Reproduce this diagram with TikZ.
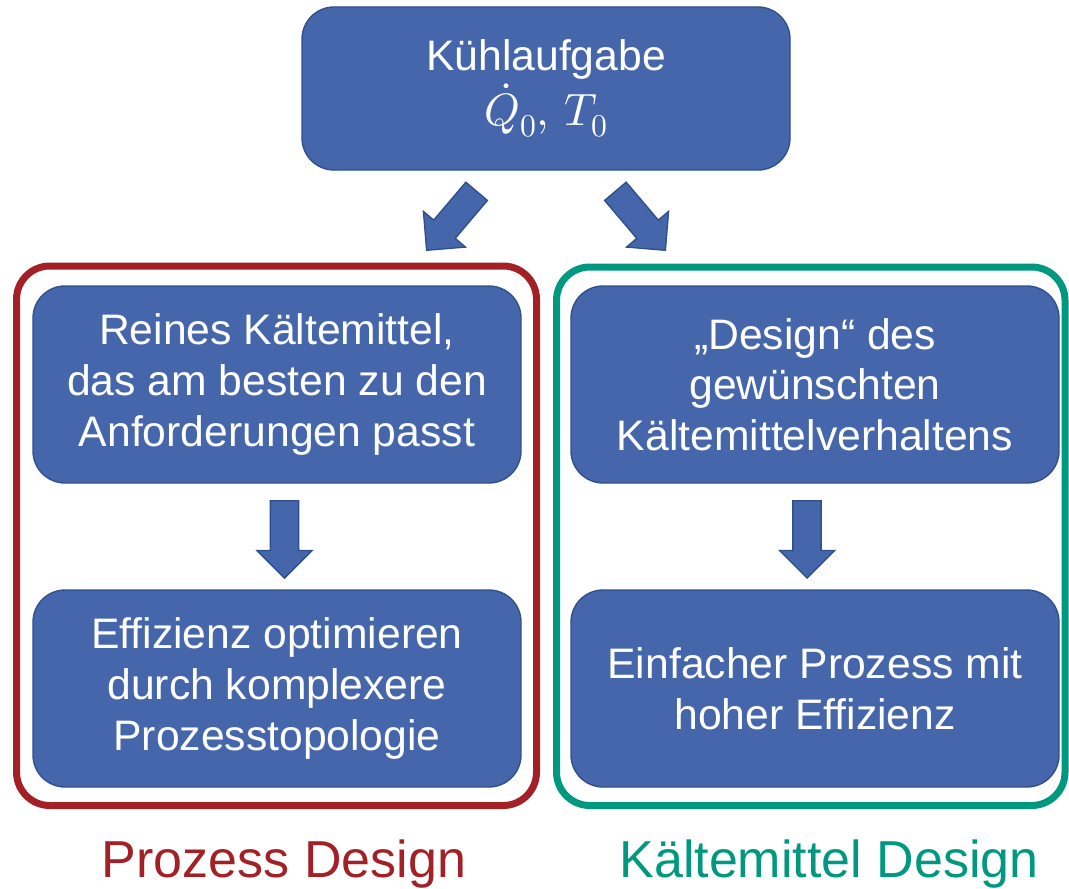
\documentclass[tikz,border=0pt]{standalone}
\usepackage{fontspec}
\usepackage{unicode-math}
\setmainfont{Liberation Sans}
\setmathfont{Latin Modern Math}
\usetikzlibrary{shapes.arrows}
\definecolor{boxblue}{RGB}{70,102,172}
\definecolor{boxline}{RGB}{47,79,138}
\definecolor{prozessred}{RGB}{163,33,38}
\definecolor{mittelgreen}{RGB}{0,153,128}
\begin{document}
\begin{tikzpicture}[x=0.75pt,y=-0.75pt,
    taskbox/.style={draw=boxline, fill=boxblue, line width=1pt, rounded corners=24pt,
        text=white, align=center, inner sep=0pt, minimum width=366pt,
        font=\fontsize{32}{38}\selectfont},
    flowarrow/.style={single arrow, draw=boxline, fill=boxblue, line width=1pt,
        inner sep=10.1pt, single arrow head extend=10.1pt, minimum height=58pt,
        anchor=tip},
    frameline/.style={line width=5.25pt, rounded corners=25pt},
    caption/.style={anchor=base, font=\fontsize{39}{46}\selectfont}]
    \useasboundingbox (0,0) rectangle (1069,888);

    % Frames
    \draw[frameline, prozessred] (16.5,266) rectangle (536.5,805.5);
    \draw[frameline, mittelgreen] (556.5,267) rectangle (1065,805.5);

    % Cooling task
    \node[taskbox, minimum height=122.25pt] (kuehl) at (546,88.5)
        {K\"uhlaufgabe\\[2pt]{\fontsize{34}{40}\selectfont$\dot{Q}_0,\,T_0$}};

    % Process design branch
    \node[taskbox, minimum height=147.75pt] (reines) at (277,384.5)
        {Reines K\"altemittel,\\das am besten zu den\\Anforderungen passt};
    \node[taskbox, minimum height=147.75pt] (effizienz) at (277,688.5)
        {Effizienz optimieren\\durch komplexere\\Prozesstopologie};

    % Refrigerant design branch
    \node[taskbox, minimum height=147.75pt] (design) at (815,384.5)
        {\quotedblbase Design\textquotedblleft{} des\\gew\"unschten\\K\"altemittelverhaltens};
    \node[taskbox, minimum height=147.75pt] (einfach) at (815,688.5)
        {Einfacher Prozess mit\\hoher Effizienz};

    % Block arrows
    \node[flowarrow, rotate=229.7] (toleft) at (426,251) {};
    \node[flowarrow, rotate=-49.7] (toright) at (666,251) {};
    \node[flowarrow, rotate=-90] (downleft) at (284.5,579) {};
    \node[flowarrow, rotate=-90] (downright) at (807,579) {};

    % Captions
    \node[caption, text=prozessred] (prozesslabel) at (284,877) {Prozess Design};
    \node[caption, text=mittelgreen] (mittellabel) at (829,877) {K\"altemittel Design};
\end{tikzpicture}
\end{document}
